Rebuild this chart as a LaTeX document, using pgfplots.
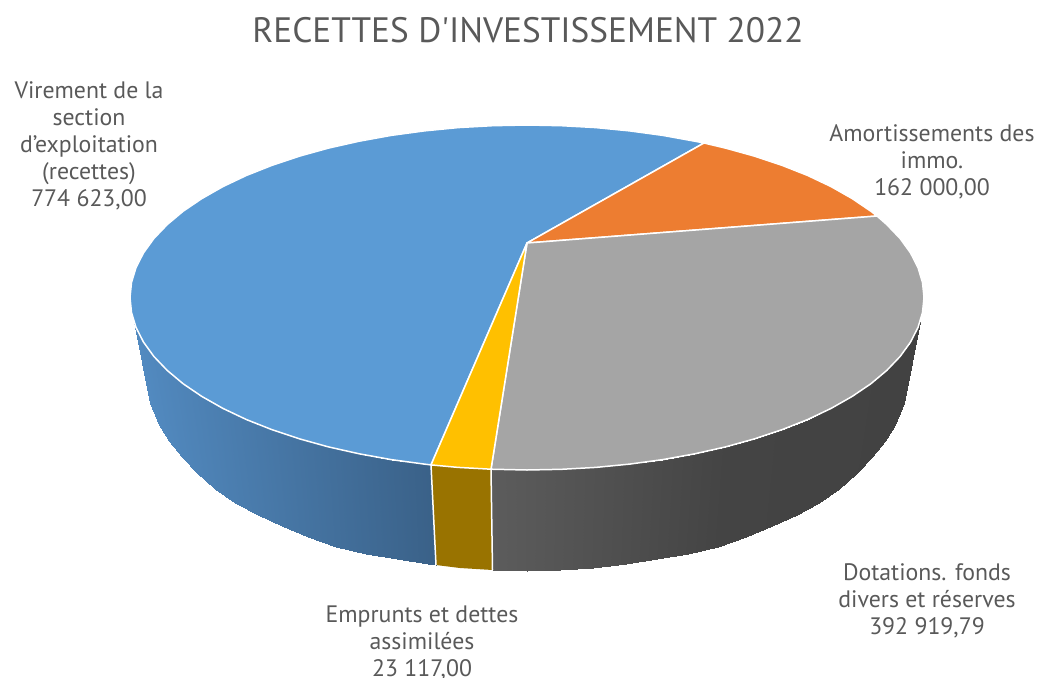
\documentclass[border=0pt]{standalone}
\usepackage{fontspec}
\setmainfont{PT Sans}
\usepackage{pgfplots}
\pgfplotsset{compat=1.18}

\definecolor{txt}{HTML}{595959}
\definecolor{pblue}{HTML}{5B9BD5}
\definecolor{porange}{HTML}{ED7D31}
\definecolor{pgray}{HTML}{A5A5A5}
\definecolor{pyellow}{HTML}{FFC000}
\definecolor{wyellow}{HTML}{997300}

\pgfplotsset{
  colormap={wallblue}{rgb255(0cm)=(82,138,192) rgb255(10cm)=(58,97,136)},
  colormap={wallgray}{rgb255(0cm)=(92,92,92) rgb255(5.5cm)=(68,68,68) rgb255(10cm)=(66,66,66)},
}
\tikzset{
  sector/.style={draw=white, line width=1.5pt, line join=round},
  lbl/.style={text=txt, align=center, font=\fontsize{23.8}{27}\selectfont, inner sep=0pt},
}

\begin{document}
\begin{tikzpicture}
\path[use as bounding box] (0,0) rectangle (1038pt,677pt);
\clip (0,0) rectangle (1038pt,677pt);
\begin{axis}[
  at={(0,0)}, anchor=south west,
  scale only axis, width=1038pt, height=677pt,
  xmin=0, xmax=1038, ymin=0, ymax=677, y dir=reverse,
  axis lines=none, clip=false, no markers,
  point meta min=0, point meta max=1,
]
% side walls
\addplot[surf, shader=interp, mesh/rows=2, point meta=explicit, colormap name=wallblue]
  table[meta=c] {
x y c
134 322 0
143.5 342.1 .03
153.9 356.5 .066
167.2 370.4 .11
183.2 383.8 .164
201.8 396.4 .226
222.9 408.4 .297
246.3 419.5 .376
271.8 429.6 .462
299.3 438.8 .554
328.5 446.9 .652
359.2 453.8 .755
391.2 459.6 .862
424.3 464.1 .973
431 464.9 1
150 403 0
158.8 424.6 .03
168.8 441.4 .066
181.6 457.2 .11
197 473 .164
214.8 488.7 .226
235.1 503.4 .297
257.5 515.1 .376
282 525.9 .462
308.4 537.1 .554
336.4 547 .652
365.9 554.3 .755
396.6 559.4 .862
428.4 563.9 .973
436 565 1
};
\addplot[surf, shader=interp, mesh/rows=2, point meta=explicit, colormap name=wallgray]
  table[meta=c] {
x y c
491 469.2 0
527 470 .084
561.6 469.3 .165
595.9 467.4 .244
629.7 464.1 .323
662.8 459.6 .401
694.8 453.8 .475
725.5 446.9 .547
754.7 438.8 .615
782.2 429.6 .679
807.7 419.5 .739
831.1 408.4 .793
852.2 396.4 .843
870.8 383.8 .886
886.8 370.4 .923
900.1 356.5 .954
910.5 342.1 .979
920 322 1
492.5 570 0
527 571 .084
560.2 570 .165
593.1 568.1 .244
625.6 563.9 .323
657.4 559.4 .401
688.1 554.3 .475
717.6 547 .547
745.6 537.1 .615
772 525.9 .679
796.5 515.1 .739
818.9 503.4 .793
839.2 488.7 .843
857 473 .886
872.4 457.2 .923
885.2 441.4 .954
895.2 424.6 .979
904 403 1
};
\addplot[fill=wyellow, draw=none] coordinates {
  (431,464.9) (458.1,467.4) (491,469.2) (492.5,570) (460,568) (436,565)} -- cycle;
\addplot[white, line width=1.5pt] coordinates {(431,464.9) (436,565)};
\addplot[white, line width=1.5pt] coordinates {(491,469.2) (492.5,570)};

% top face
\addplot[sector, fill=pblue] coordinates {
  (527,243) (431,464.9) (424.3,464.1) (391.2,459.6) (359.2,453.8) (328.5,446.9)
  (299.3,438.8) (271.8,429.6) (246.3,419.5) (222.9,408.4) (201.8,396.4) (183.2,383.8)
  (167.2,370.4) (153.9,356.5) (143.5,342.1) (136,327.4) (131.5,312.5) (130,297.5)
  (131.5,282.5) (136,267.6) (143.5,252.9) (153.9,238.5) (167.2,224.6) (183.2,211.2)
  (201.8,198.6) (222.9,186.6) (246.3,175.5) (271.8,165.4) (299.3,156.2) (328.5,148.1)
  (359.2,141.2) (391.2,135.4) (424.3,130.9) (458.1,127.6) (492.4,125.7) (527,125)
  (561.6,125.7) (595.9,127.6) (629.7,130.9) (662.8,135.4) (694.8,141.2) (704,143)} -- cycle;
\addplot[sector, fill=porange] coordinates {
  (527,243) (704,143) (725.5,148.1) (754.7,156.2) (782.2,165.4) (807.7,175.5)
  (831.1,186.6) (852.2,198.6) (870.8,211.2) (877,216)} -- cycle;
\addplot[sector, fill=pgray] coordinates {
  (527,243) (877,216) (886.8,224.6) (900.1,238.5) (910.5,252.9) (918,267.6) (922.5,282.5)
  (924,297.5) (922.5,312.5) (918,327.4) (910.5,342.1) (900.1,356.5) (886.8,370.4)
  (870.8,383.8) (852.2,396.4) (831.1,408.4) (807.7,419.5) (782.2,429.6) (754.7,438.8)
  (725.5,446.9) (694.8,453.8) (662.8,459.6) (629.7,464.1) (595.9,467.4) (561.6,469.3)
  (527,470) (491,469.2)} -- cycle;
\addplot[sector, fill=pyellow] coordinates {
  (527,243) (491,469.2) (458.1,467.4) (431,464.9)} -- cycle;

% title and data labels
\node[text=txt, inner sep=0pt, font=\fontsize{35.3}{40}\selectfont] at (axis cs:528,30) {RECETTES D\textquotesingle INVESTISSEMENT 2022};
\node[lbl] at (axis cs:89,146) {Virement de la\\section\\d’exploitation\\(recettes)\\774 623,00};
\node[lbl] at (axis cs:932,162) {Amortissements des\\immo.\\162 000,00};
\node[lbl] at (axis cs:927,601) {Dotations. fonds\\divers et réserves\\392 919,79};
\node[lbl] at (axis cs:422,643) {Emprunts et dettes\\assimilées\\23 117,00};
\end{axis}
\end{tikzpicture}
\end{document}
